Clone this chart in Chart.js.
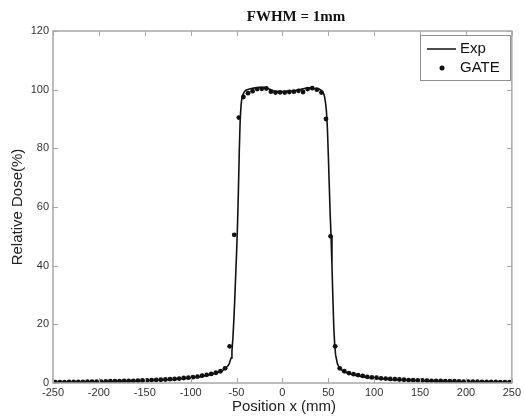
<!DOCTYPE html>
<html>
<head>
<meta charset="utf-8">
<script src="https://cdn.jsdelivr.net/npm/chart.js@4"></script>
<style>
  html, body { margin: 0; padding: 0; background: #fff; }
  #wrap { width: 524px; height: 416px; }
</style>
</head>
<body>
<div id="wrap"><canvas id="dose-chart" width="524" height="416"></canvas></div>
<script>
// Exp (measured) profile
const expX = [-250, -200, -150, -120, -100, -90, -80, -70, -65, -60, -58, -56, -55, -54, -53, -52, -51, -50,
  -49, -48, -47, -46, -45, -44, -42, -40, -35, -30, -25, -20, -15, -10, -5, 0, 5, 10, 15, 20, 25, 30, 35,
  40, 42, 44, 45, 46, 47, 48, 49, 50, 51, 52, 53, 54, 55, 56, 57, 58, 60, 62, 65, 70, 80, 90, 100, 120,
  150, 200, 250];
const expY = [0.2, 0.4, 0.8, 1.2, 1.7, 2.1, 2.7, 3.6, 4.3, 5.6, 6.5, 8.5, 11, 15, 21, 28, 36, 44,
  53, 65, 79, 90, 95, 97.5, 99, 99.8, 100.3, 100.6, 100.8, 100.8, 100.3, 99.6, 99.4, 99.4, 99.5, 99.6, 99.8, 100.1, 100.5, 100.6, 100.4,
  100.2, 99.8, 99.2, 98.6, 97.5, 95.5, 92.5, 87, 78, 68, 58, 50, 40, 29, 19, 13, 9.5, 6.5, 5.2, 4.3, 3.5, 2.6, 2.0, 1.6, 1.1,
  0.8, 0.4, 0.2];

// GATE simulation points (x every 5 mm, from -247.5 to 247.5)
const gateX = [-247.5, -242.5, -237.5, -232.5, -227.5, -222.5, -217.5, -212.5, -207.5, -202.5,
  -197.5, -192.5, -187.5, -182.5, -177.5, -172.5, -167.5, -162.5, -157.5, -152.5,
  -147.5, -142.5, -137.5, -132.5, -127.5, -122.5, -117.5, -112.5, -107.5, -102.5,
  -97.5, -92.5, -87.5, -82.5, -77.5, -72.5, -67.5, -62.5, -57.5, -52.5,
  -47.5, -42.5, -37.5, -32.5, -27.5, -22.5, -17.5, -12.5, -7.5, -2.5,
  2.5, 7.5, 12.5, 17.5, 22.5, 27.5, 32.5, 37.5, 42.5, 47.5,
  52.5, 57.5, 62.5, 67.5, 72.5, 77.5, 82.5, 87.5, 92.5, 97.5,
  102.5, 107.5, 112.5, 117.5, 122.5, 127.5, 132.5, 137.5, 142.5, 147.5,
  152.5, 157.5, 162.5, 167.5, 172.5, 177.5, 182.5, 187.5, 192.5, 197.5,
  202.5, 207.5, 212.5, 217.5, 222.5, 227.5, 232.5, 237.5, 242.5, 247.5];
const gateY = [0.3, 0.3, 0.3, 0.35, 0.35, 0.4, 0.4, 0.45, 0.45, 0.5,
  0.5, 0.55, 0.6, 0.6, 0.65, 0.7, 0.7, 0.75, 0.8, 0.85,
  0.9, 1.0, 1.05, 1.1, 1.2, 1.3, 1.4, 1.5, 1.7, 1.8,
  2.0, 2.2, 2.5, 2.8, 3.1, 3.5, 4.0, 5.0, 12.5, 50.5,
  90.5, 97.5, 98.8, 99.5, 100.2, 100.3, 100.4, 99.3, 99.0, 99.1,
  99.0, 99.2, 99.3, 99.6, 99.2, 100.2, 100.5, 100.0, 99.0, 90.0,
  50.0, 12.5, 5.0, 4.0, 3.4, 3.0, 2.7, 2.4, 2.1, 1.9,
  1.8, 1.6, 1.5, 1.4, 1.3, 1.2, 1.1, 1.0, 0.95, 0.9,
  0.85, 0.8, 0.75, 0.7, 0.7, 0.65, 0.6, 0.6, 0.55, 0.5,
  0.5, 0.45, 0.45, 0.4, 0.4, 0.35, 0.35, 0.3, 0.3, 0.3];

const xTicks = [-250, -200, -150, -100, -50, 0, 50, 100, 150, 200, 250];
const yTicks = [0, 20, 40, 60, 80, 100, 120];

const frameColor = "#a8a8a8";
const tickFont = { family: "Liberation Sans", size: 11 };

// frame, inward ticks, titles and legend, MATLAB style
const matlabDecor = {
  id: "matlabDecor",
  afterDraw(chart) {
    const c = chart.ctx;
    const a = chart.chartArea;
    const xs = chart.scales.x;
    const ys = chart.scales.y;
    c.save();
    c.strokeStyle = frameColor;
    c.lineWidth = 1.5;
    c.strokeRect(a.left, a.top, a.right - a.left, a.bottom - a.top);
    c.lineWidth = 1;
    xTicks.forEach((v) => {
      const px = Math.round(xs.getPixelForValue(v)) + 0.5;
      c.beginPath();
      c.moveTo(px, a.bottom); c.lineTo(px, a.bottom - 5);
      c.moveTo(px, a.top); c.lineTo(px, a.top + 5);
      c.stroke();
    });
    yTicks.forEach((v) => {
      const py = Math.round(ys.getPixelForValue(v)) + 0.5;
      c.beginPath();
      c.moveTo(a.left, py); c.lineTo(a.left + 5, py);
      c.moveTo(a.right, py); c.lineTo(a.right - 5, py);
      c.stroke();
    });

    // title
    c.fillStyle = "#111";
    c.font = "bold 15px 'Liberation Serif'";
    c.textAlign = "center";
    c.textBaseline = "middle";
    c.fillText("FWHM = 1mm", 296, 17);

    // axis titles
    c.fillStyle = "#222";
    c.font = "15px 'Liberation Sans'";
    c.fillText("Position x (mm)", 284, 407);
    c.save();
    c.translate(18, 207);
    c.rotate(-Math.PI / 2);
    c.fillText("Relative Dose(%)", 0, 0);
    c.restore();

    // legend
    c.fillStyle = "#fff";
    c.fillRect(420, 35, 90, 45);
    c.strokeStyle = "#909090";
    c.lineWidth = 1;
    c.strokeRect(420.5, 35.5, 90, 45);
    c.strokeStyle = "#111";
    c.lineWidth = 1.5;
    c.beginPath();
    c.moveTo(427, 49); c.lineTo(456, 49);
    c.stroke();
    c.fillStyle = "#111";
    c.beginPath();
    c.arc(442, 68, 2.5, 0, Math.PI * 2);
    c.fill();
    c.font = "15px 'Liberation Sans'";
    c.textAlign = "left";
    c.fillText("Exp", 460, 49);
    c.fillText("GATE", 460, 68);
    c.restore();
  },
};

new Chart(document.getElementById("dose-chart"), {
  type: "scatter",
  data: {
    datasets: [
      {
        label: "Exp",
        data: expX.map((x, i) => ({ x: x, y: expY[i] })),
        showLine: true,
        borderColor: "#111",
        borderWidth: 1.6,
        pointRadius: 0,
        tension: 0,
        order: 2,
      },
      {
        label: "GATE",
        data: gateX.map((x, i) => ({ x: x, y: gateY[i] })),
        showLine: false,
        backgroundColor: "#111",
        borderColor: "#111",
        pointRadius: 2.4,
        borderWidth: 0,
        order: 1,
      },
    ],
  },
  options: {
    responsive: false,
    animation: false,
    layout: { padding: { left: 0, right: 9, top: 31, bottom: 0 } },
    plugins: {
      legend: { display: false },
      tooltip: { enabled: false },
      title: { display: false },
    },
    scales: {
      x: {
        type: "linear",
        min: -250,
        max: 250,
        afterFit: (scale) => { scale.height = 33; },
        afterBuildTicks: (scale) => { scale.ticks = xTicks.map((v) => ({ value: v })); },
        grid: { display: false, drawTicks: false, tickLength: 0 },
        border: { display: false },
        ticks: { font: tickFont, color: "#333", padding: 3, maxRotation: 0, autoSkip: false },
      },
      y: {
        type: "linear",
        min: 0,
        max: 120,
        afterFit: (scale) => { scale.width = 53; },
        afterBuildTicks: (scale) => { scale.ticks = yTicks.map((v) => ({ value: v })); },
        grid: { display: false, drawTicks: false, tickLength: 0 },
        border: { display: false },
        ticks: { font: tickFont, color: "#333", padding: 4 },
      },
    },
  },
  plugins: [matlabDecor],
});
</script>
</body>
</html>
